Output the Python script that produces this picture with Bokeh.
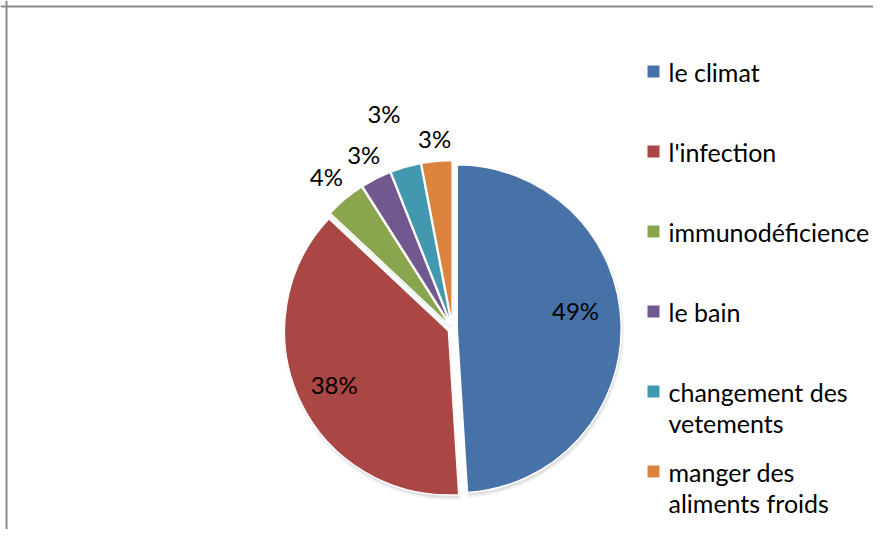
import math
from bokeh.plotting import figure
from bokeh.models import Range1d, Span, ColumnDataSource
from bokeh.core.properties import value
from bokeh.embed import file_html
from bokeh.resources import INLINE

# ---- data ----
categories = ["le climat", "l'infection", "immunodéficience", "le bain",
              "changement des vetements", "manger des aliments froids"]
percents = [49, 38, 4, 3, 3, 3]
pct_labels = ["49%", "38%", "4%", "3%", "3%", "3%"]
colors = ["#4672A8", "#AA4643", "#89A54E", "#71588F", "#4198AF", "#DB843D"]
legend_lines = [["le climat"], ["l'infection"], ["immunodéficience"], ["le bain"],
                ["changement des", "vetements"], ["manger des", "aliments froids"]]

# ---- layout (canvas pixels) ----
W, H = 873, 529
def Y(py):  # canvas y (downwards) -> data y (upwards)
    return H - py

CX, CY = 452.1, Y(328.5)
R = 164.0
EXPLODE = 4.6
label_r = [0.73, 0.77, 1.18, 1.165, 1.35, 1.14]
label_dtheta = [-7.0, 0, 0, 0, -1.5, 0]
FONT = value("Lato")

p = figure(width=W, height=H, output_backend="svg", toolbar_location=None,
           x_range=Range1d(0, W), y_range=Range1d(0, H), min_border=0,
           x_axis_location=None, y_axis_location=None)
p.grid.visible = False
p.outline_line_color = None
p.background_fill_color = "white"
p.border_fill_color = "white"

total = float(sum(percents))
xs, ys, starts, ends, lx, ly = [], [], [], [], [], []
cum = 0.0
for v, lr, dt in zip(percents, label_r, label_dtheta):
    c0 = cum / total
    cum += v
    c1 = cum / total
    mid = (c0 + c1) * math.pi  # clockwise from top
    cx = CX + EXPLODE * math.sin(mid)
    cy = CY + EXPLODE * math.cos(mid)
    xs.append(cx); ys.append(cy)
    starts.append(math.pi / 2 - c1 * 2 * math.pi)
    ends.append(math.pi / 2 - c0 * 2 * math.pi)
    la = mid + math.radians(dt)
    lx.append(cx + lr * R * math.sin(la))
    ly.append(cy + lr * R * math.cos(la))

src = ColumnDataSource(dict(x=xs, y=ys, sx=[x + 1 for x in xs], sy=[y - 3 for y in ys],
                            start=starts, end=ends, color=colors, cat=categories,
                            lx=lx, ly=ly, lab=pct_labels))

# soft shadow
p.wedge(x="sx", y="sy", radius=R + 2, start_angle="start", end_angle="end",
        fill_color="black", fill_alpha=0.05, line_color=None, source=src)
p.wedge(x="sx", y="sy", radius=R, start_angle="start", end_angle="end",
        fill_color="black", fill_alpha=0.08, line_color=None, source=src)
# slices
p.wedge(x="x", y="y", radius=R, start_angle="start", end_angle="end",
        fill_color="color", line_color="white", line_width=1.5, source=src)
# percentage labels
p.text(x="lx", y="ly", text="lab", source=src, text_align="center",
       text_baseline="middle", text_font=FONT, text_font_size="24px",
       text_color="#000000")

# legend
LEG_X, LEG_Y0, LEG_DY, LINE_DY, SQ = 653, 71, 80, 31.5, 12
sq_x, sq_y, sq_c, tx, ty, tt = [], [], [], [], [], []
for i, (lines, col) in enumerate(zip(legend_lines, colors)):
    yc = LEG_Y0 + LEG_DY * i
    sq_x.append(LEG_X); sq_y.append(Y(yc)); sq_c.append(col)
    for j, line in enumerate(lines):
        tx.append(LEG_X + 15); ty.append(Y(yc + LINE_DY * j)); tt.append(line)
p.rect(x=sq_x, y=sq_y, width=SQ, height=SQ, fill_color=sq_c, line_color=None)
p.text(x=tx, y=ty, text=tt, text_align="left", text_baseline="middle",
       text_font=FONT, text_font_size="25px", text_color="#000000")

# chart area border (top and left visible)
p.add_layout(Span(location=Y(6), dimension="width", line_color="#898989", line_width=2))
p.add_layout(Span(location=6, dimension="height", line_color="#898989", line_width=2))

open("out.html", "w").write(file_html(p, INLINE))
